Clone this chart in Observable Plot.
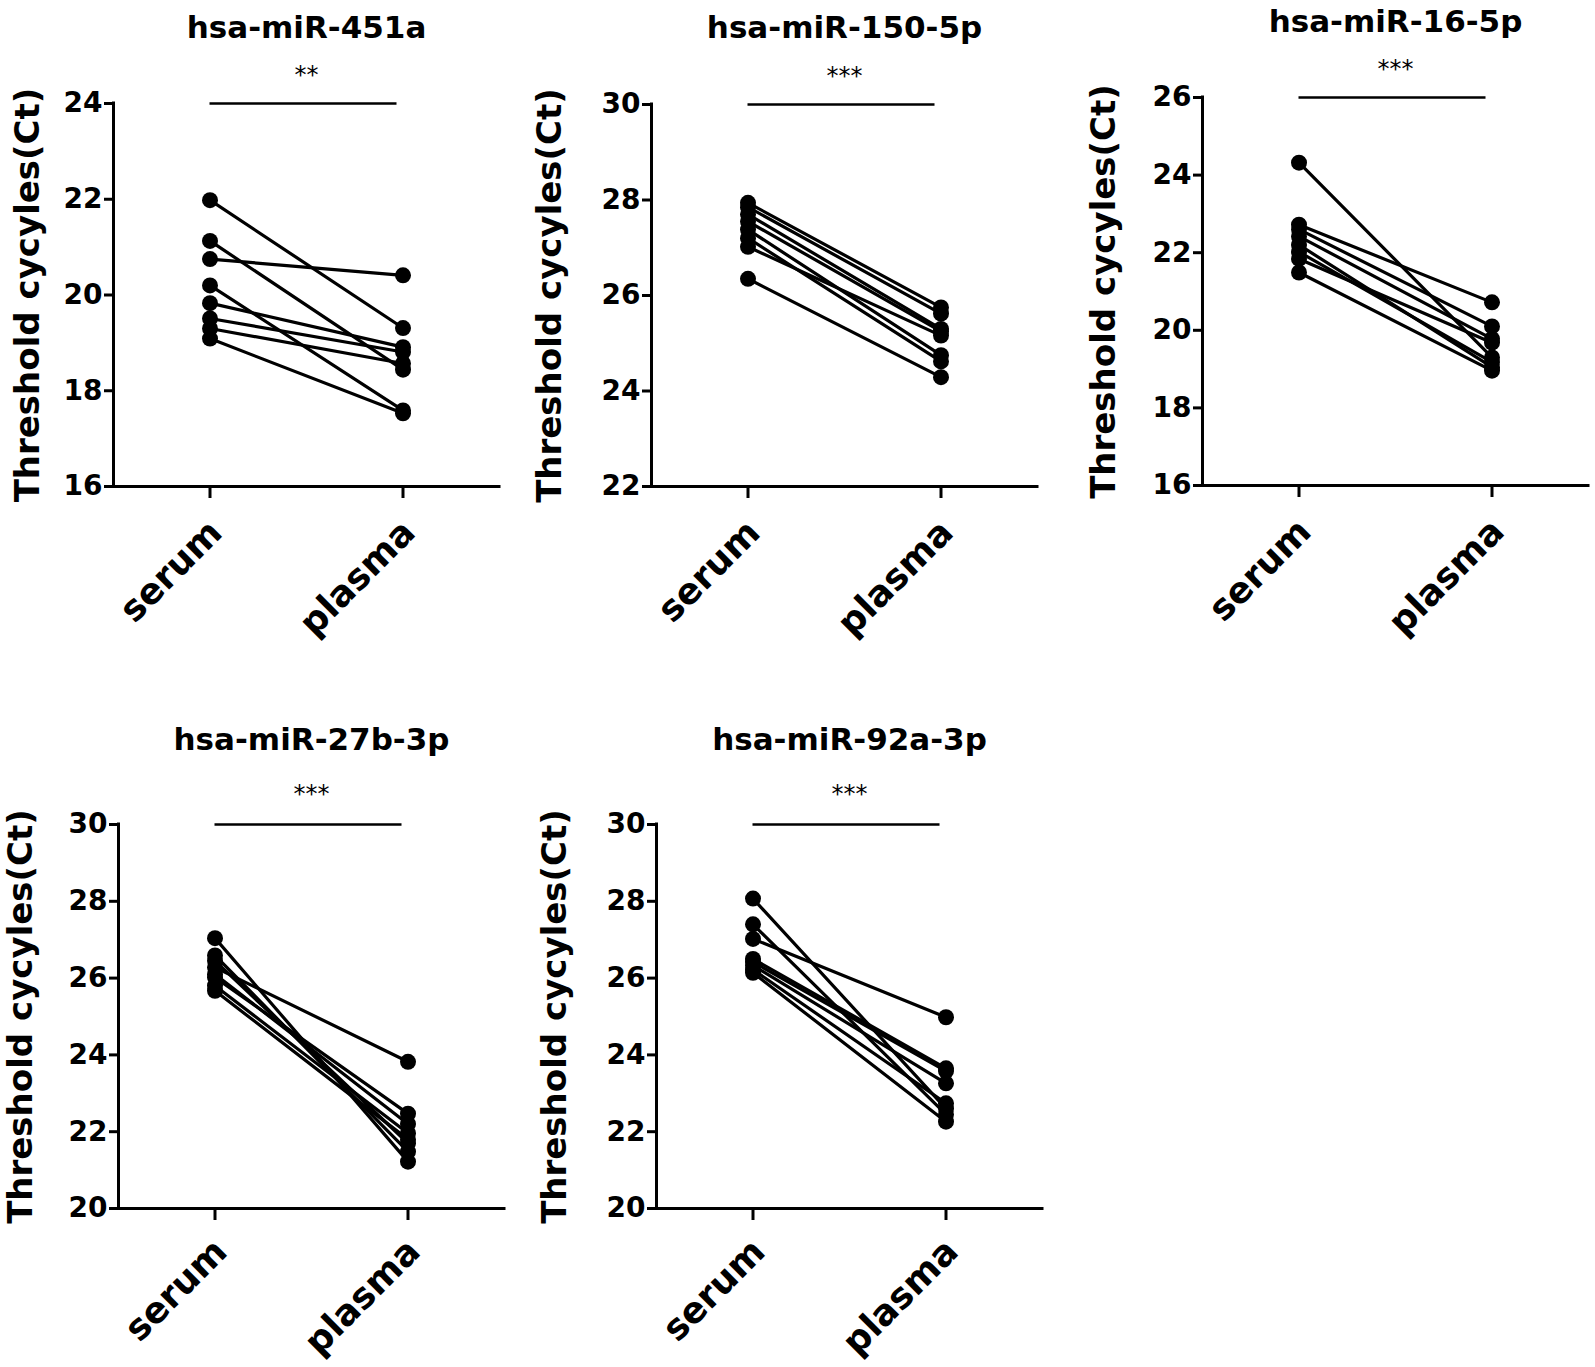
<!DOCTYPE html>
<html><head><meta charset="utf-8">
<script src="https://cdn.jsdelivr.net/npm/d3@7"></script>
<script src="https://cdn.jsdelivr.net/npm/@observablehq/plot@0.6"></script>
<style>
html,body{margin:0;padding:0;background:#fff;}
#root{position:relative;width:1595px;height:1367px;overflow:hidden;background:#fff;}
#root svg{position:absolute;}
</style></head><body><div id="root"></div>
<script>
// ---- data ----
const groups = ["serum", "plasma"];
const titles = ["hsa-miR-451a", "hsa-miR-150-5p", "hsa-miR-16-5p", "hsa-miR-27b-3p", "hsa-miR-92a-3p"];
const significance = ["**", "***", "***", "***", "***"];
const yLabel = "Threshold cycyles(Ct)";

const ticks451a = [16, 18, 20, 22, 24];
const serum451a = [21.98, 21.13, 20.75, 20.20, 19.83, 19.51, 19.30, 19.09];
const plasma451a = [19.31, 18.44, 20.41, 17.59, 18.91, 18.81, 18.57, 17.53];

const ticks150 = [22, 24, 26, 28, 30];
const serum150 = [27.94, 27.85, 27.70, 27.55, 27.38, 27.20, 27.02, 26.35];
const plasma150 = [25.75, 25.62, 25.30, 25.25, 24.75, 24.62, 25.16, 24.29];

const ticks16 = [16, 18, 20, 22, 24, 26];
const serum16 = [24.32, 22.72, 22.60, 22.42, 22.20, 22.02, 21.84, 21.49];
const plasma16 = [19.30, 20.72, 20.10, 19.78, 19.05, 19.18, 19.68, 18.96];

const ticks27b = [20, 22, 24, 26, 28, 30];
const serum27b = [27.04, 26.59, 26.45, 26.28, 26.10, 26.02, 25.80, 25.67];
const plasma27b = [21.22, 21.48, 21.70, 23.82, 22.20, 22.47, 21.96, 21.80];

const ticks92a = [20, 22, 24, 26, 28, 30];
const serum92a = [28.07, 27.40, 27.02, 26.50, 26.42, 26.33, 26.22, 26.14];
const plasma92a = [22.60, 22.45, 24.98, 23.65, 23.58, 23.26, 22.74, 22.26];

// ---- layout ----
const layout = [
  {left: 0,    top: 0,   width: 540, height: 660, mL: 113, mT: 103, mB: 174, labelOffset: 99,  titleDy: -66, starDy: -38, xPad: 40},
  {left: 540,  top: 0,   width: 550, height: 660, mL: 111, mT: 104, mB: 174, labelOffset: 115, titleDy: -67, starDy: -38, xPad: 40},
  {left: 1090, top: 0,   width: 505, height: 660, mL: 112, mT: 97,  mB: 175, labelOffset: 112, titleDy: -66, starDy: -38, xPad: 40},
  {left: 0,    top: 700, width: 540, height: 667, mL: 118, mT: 124, mB: 159, labelOffset: 111, titleDy: -75, starDy: -40, xPad: 37},
  {left: 540,  top: 700, width: 550, height: 667, mL: 116, mT: 124, mB: 159, labelOffset: 115, titleDy: -75, starDy: -40, xPad: 37}
];
const series = [
  [serum451a, plasma451a, ticks451a],
  [serum150, plasma150, ticks150],
  [serum16, plasma16, ticks16],
  [serum27b, plasma27b, ticks27b],
  [serum92a, plasma92a, ticks92a]
];
const frameW = 386;
const font = "DejaVu Sans";

const root = document.getElementById("root");
series.forEach(([serum, plasma, ticks], p) => {
  const L = layout[p];
  const rows = [];
  serum.forEach((v, i) => {
    rows.push({id: i, g: 0, ct: v});
    rows.push({id: i, g: 1, ct: plasma[i]});
  });
  const lo = ticks[0], hi = ticks[ticks.length - 1];
  const svg = Plot.plot({
    width: L.width, height: L.height,
    marginLeft: L.mL, marginTop: L.mT, marginBottom: L.mB,
    marginRight: L.width - L.mL - frameW,
    style: {fontFamily: font, background: "transparent", overflow: "visible", color: "black"},
    x: {type: "linear", domain: [-0.5, 1.5], axis: null},
    y: {domain: [lo, hi], axis: null},
    marks: [
      Plot.axisY({ticks, tickSize: 9, tickPadding: 2, fontSize: 28, fontWeight: "bold",
        strokeWidth: 3, label: null, tickFormat: d => String(d), fill: "black", stroke: "black"}),
      // x tick marks
      Plot.axisX({ticks: [0, 1], tickFormat: () => "", tickSize: 12, strokeWidth: 3, label: null,
        stroke: "black"}),
      // x tick labels (rotated)
      Plot.axisX({ticks: [0, 1], tickFormat: i => groups[i], tickRotate: -45, tickSize: 0,
        tickPadding: L.xPad, dx: 6, fontSize: 36, fontWeight: "bold", label: null, fill: "black"}),
      Plot.ruleX([-0.5], {y1: lo, y2: hi, strokeWidth: 3, stroke: "black", strokeLinecap: "square"}),
      Plot.ruleY([lo], {x1: -0.5, x2: 1.5, strokeWidth: 3, stroke: "black", strokeLinecap: "square"}),
      Plot.ruleY([hi], {x1: 0, x2: 1, insetRight: 6, strokeWidth: 2.5, stroke: "black"}),
      Plot.line(rows, {x: "g", y: "ct", z: "id", stroke: "black", strokeWidth: 3.2}),
      Plot.dot(rows, {x: "g", y: "ct", r: 8, fill: "black", stroke: "none"}),
      Plot.text([significance[p]], {text: d => d, frameAnchor: "top", dy: L.starDy,
        fontSize: 24, fill: "black"}),
      Plot.text([titles[p]], {text: d => d, frameAnchor: "top", lineAnchor: "bottom", dy: L.titleDy,
        fontSize: 31, fontWeight: "bold", fill: "black"}),
      Plot.text([yLabel], {text: d => d, frameAnchor: "left", textAnchor: "middle", rotate: -90,
        dx: -L.labelOffset, lineAnchor: "top", fontSize: 34, fontWeight: "bold", fill: "black"})
    ]
  });
  svg.style.left = L.left + "px";
  svg.style.top = L.top + "px";
  root.appendChild(svg);
});
</script>
</body></html>
